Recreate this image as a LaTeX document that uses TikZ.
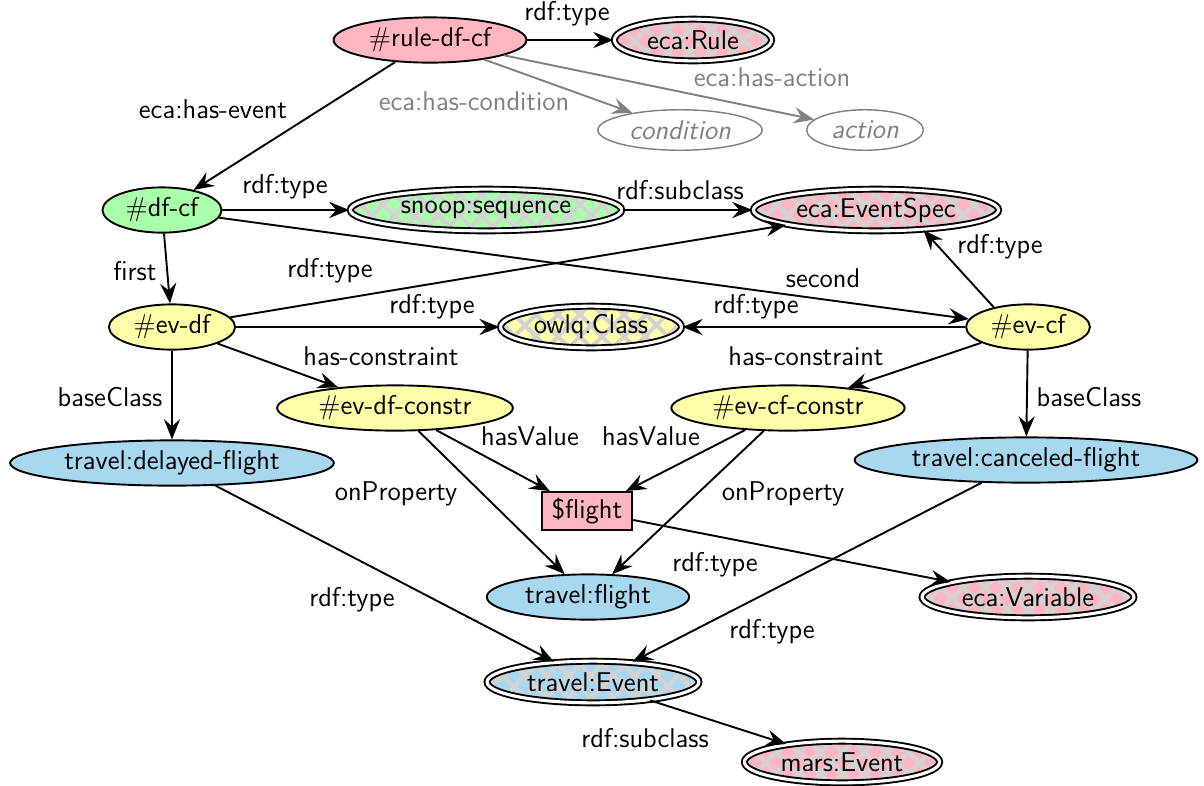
\documentclass[tikz,border=0pt]{standalone}
\usetikzlibrary{arrows.meta}
\usetikzlibrary{shapes.geometric}
\usetikzlibrary{patterns.meta}

\definecolor{rulepink}{HTML}{FFB6C1}
\definecolor{dfgreen}{HTML}{AAFFAA}
\definecolor{evyellow}{HTML}{FFFFAA}
\definecolor{travblue}{HTML}{A8D8F0}
\definecolor{hatch}{HTML}{D3D3D3}

\begin{document}
\begin{tikzpicture}[x=0.42pt, y=-0.42pt, font=\fontsize{11.4}{13}\sffamily,
  nd/.style={ellipse, draw, thick, inner sep=0pt, minimum height=19pt},
  cls/.style={nd, double, double distance=1.3pt, minimum height=17.5pt,
    preaction={fill=#1},
    preaction={pattern={Lines[angle=45,distance=6.5pt,line width=1.8pt]}, pattern color=hatch},
    preaction={pattern={Lines[angle=-45,distance=6.5pt,line width=1.8pt]}, pattern color=hatch}},
  link/.style={thick, -{Stealth[length=8.5pt,width=6.8pt,inset=3pt]}},
  lbl/.style={inner sep=1pt}]
\useasboundingbox (0,0) rectangle (1204,785);

% rule and its parts
\node[nd, fill=rulepink, minimum width=81pt] (rule) at (430,40) {\#rule-df-cf};
\node[cls=rulepink, minimum width=66pt] (Rule) at (693,40) {eca:Rule};
\node[nd, semithick, draw=gray, text=gray, font=\fontsize{11.4}{13}\sffamily\itshape, minimum width=69pt, minimum height=17pt] (cond) at (680,130) {condition};
\node[nd, semithick, draw=gray, text=gray, font=\fontsize{11.4}{13}\sffamily\itshape, minimum width=49pt, minimum height=17pt] (act) at (865,130) {action};

% event specs
\node[nd, fill=dfgreen, minimum width=50pt] (dfcf) at (162,210) {\#df-cf};
\node[cls=dfgreen, minimum width=114pt] (seq) at (486,210) {snoop:sequence};
\node[cls=rulepink, minimum width=103pt] (espec) at (876,210) {eca:EventSpec};
\node[nd, fill=evyellow, minimum width=53pt] (evdf) at (172,327) {\#ev-df};
\node[cls=evyellow, minimum width=76pt] (owlq) at (591,327) {owlq:Class};
\node[nd, fill=evyellow, minimum width=52pt] (evcf) at (1028,327) {\#ev-cf};
\node[nd, fill=evyellow, minimum width=99pt] (dfc) at (395,408) {\#ev-df-constr};
\node[nd, fill=evyellow, minimum width=98pt] (cfc) at (788,408) {\#ev-cf-constr};

% travel classes
\node[nd, fill=travblue, minimum width=136pt] (delayed) at (172,463) {travel:delayed-flight};
\node[nd, fill=travblue, minimum width=144pt] (canceled) at (1026,460) {travel:canceled-flight};
\node[draw, thick, fill=rulepink, minimum width=38pt, minimum height=16pt, inner sep=0pt] (flight) at (587,511) {\$flight};
\node[nd, fill=travblue, minimum width=85pt] (tflight) at (588,597) {travel:flight};
\node[cls=rulepink, minimum width=89pt] (var) at (1028,597) {eca:Variable};
\node[cls=travblue, minimum width=89pt] (tevent) at (593,682) {travel:Event};
\node[cls=rulepink, minimum width=82pt] (mars) at (842,762) {mars:Event};

% edges: from/to/label x/label y/label
\foreach \a/\b/\x/\y/\t in {
  rule/Rule/567/14/rdf:type,
  rule/dfcf/213/109/eca:has-event,
  dfcf/seq/285/187/rdf:type,
  seq/espec/680/190/rdf:subclass,
  dfcf/evdf/135/271/first,
  dfcf/evcf/823/278/second,
  evdf/espec/330/271/rdf:type,
  evcf.150/espec.-23/1000/247/rdf:type,
  evdf/owlq/432/307/rdf:type,
  evcf/owlq/756/307/rdf:type,
  evdf/dfc/381/356/has-constraint,
  evcf/cfc/806/356/has-constraint,
  evdf/delayed/110/397/baseClass,
  evcf/canceled/1089/397/baseClass,
  dfc/flight/530/436/hasValue,
  cfc/flight/651/436/hasValue,
  dfc/tflight/396/494/onProperty,
  cfc/tflight/783/494/onProperty,
  flight/var/715/565/rdf:type,
  delayed/tevent/352/600/rdf:type,
  canceled/tevent/772/632/rdf:type,
  tevent/mars/645/738/rdf:subclass}
  \draw[link] (\a) -- (\b) node[lbl] at (\x,\y) {\t};

% condition and action are left open
\draw[link, gray] (rule) -- (cond) node[lbl] at (474,101) {eca:has-condition};
\draw[link, gray] (rule) -- (act) node[lbl] at (772,77) {eca:has-action};
\end{tikzpicture}
\end{document}
